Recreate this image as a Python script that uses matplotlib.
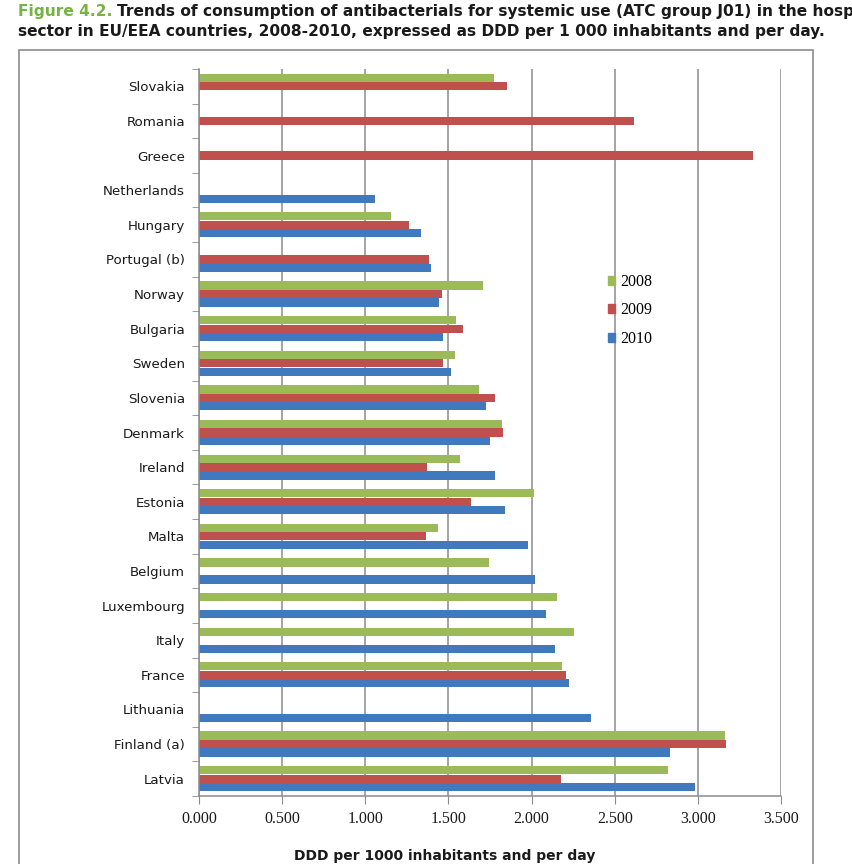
import matplotlib
matplotlib.use('Agg')
import matplotlib.pyplot as plt
from matplotlib.patches import Patch, Rectangle
import numpy as np

nan = np.nan

# categories, top to bottom as in the chart
countries = ['Slovakia', 'Romania', 'Greece', 'Netherlands', 'Hungary', 'Portugal (b)',
             'Norway', 'Bulgaria', 'Sweden', 'Slovenia', 'Denmark', 'Ireland', 'Estonia',
             'Malta', 'Belgium', 'Luxembourg', 'Italy', 'France', 'Lithuania',
             'Finland (a)', 'Latvia']

# DDD per 1000 inhabitants and per day
y2008 = [1.772, nan, nan, nan, 1.152, nan, 1.707, 1.548, 1.539, 1.684, 1.820, 1.571, 2.014,
         1.438, 1.744, 2.152, 2.253, 2.182, nan, 3.161, 2.823]
y2009 = [1.850, 2.618, 3.330, nan, 1.265, 1.382, 1.461, 1.585, 1.470, 1.779, 1.829, 1.371, 1.636,
         1.364, nan, nan, nan, 2.205, nan, 3.171, 2.177]
y2010 = [nan, nan, nan, 1.060, 1.334, 1.396, 1.442, 1.468, 1.516, 1.724, 1.751, 1.779, 1.839,
         1.979, 2.021, 2.088, 2.143, 2.226, 2.357, 2.832, 2.984]

years = ['2008', '2009', '2010']
colors = ['#9BBB59', '#C0504D', '#4079BD']

W, H = 853, 864
fig = plt.figure(figsize=(W / 100, H / 100), dpi=100)

# outer chart border
fig.patches.append(Rectangle((19.5 / W, -0.05), (813 - 19.5) / W, 1 - 50 / H + 0.05,
                             transform=fig.transFigure, fill=False, ec='#8c8c8c', lw=1.2))

ax = fig.add_axes([199 / W, 1 - 796 / H, (781 - 199) / W, (796 - 69) / H])

pos = np.arange(len(countries))
bh = 0.245
for i, (vals, c, lab) in enumerate(zip([y2008, y2009, y2010], colors, years)):
    ax.barh(pos + (i - 1) * bh, vals, height=bh * 0.97, color=c, label=lab, linewidth=0)

ax.set_xlim(0, 3.5)
ax.set_ylim(len(countries) - 0.5, -0.5)
ax.set_xticks(np.arange(0, 3.51, 0.5))
ax.set_xticklabels(['%.3f' % v for v in np.arange(0, 3.51, 0.5)],
                   fontfamily='Liberation Serif', fontsize=11.5, color='#1a1a1a')
ax.set_yticks(pos)
ax.set_yticklabels(countries, fontfamily='DejaVu Sans', fontsize=9.6, color='#1a1a1a')
ax.set_yticks(np.arange(-0.5, len(countries), 1), minor=True)
ax.tick_params(axis='y', which='major', length=0, pad=10)
ax.tick_params(axis='y', which='minor', length=5, color='#8c8c8c', direction='out')
ax.tick_params(axis='x', length=6, color='#8c8c8c', direction='out', pad=5)

ax.grid(axis='x', color='#8c8c8c', lw=1.1)
ax.set_axisbelow(True)
for s in ['top', 'right']:
    ax.spines[s].set_visible(False)
for s in ['left', 'bottom']:
    ax.spines[s].set_color('#8c8c8c')
    ax.spines[s].set_linewidth(1.1)

# axis title sits left of the plot centre in the original
fig.text(445 / W, 1 - 860 / H, 'DDD per 1000 inhabitants and per day', fontsize=10,
         fontweight='bold', color='#1a1a1a', ha='center', va='baseline')

handles = [Patch(color=c, label=l) for c, l in zip(colors, years)]
fig.legend(handles=handles, loc='upper left', bbox_to_anchor=(608 / W, 1 - 274 / H),
           frameon=False, handlelength=0.45, handleheight=0.45, handletextpad=0.3,
           labelspacing=0.78, borderpad=0, borderaxespad=0,
           prop={'family': 'Liberation Serif', 'size': 11.5})

# title, first part in green
t1 = fig.text(18 / W, 1 - 16 / H, 'Figure 4.2.', color='#77B341', fontsize=11.1,
              fontweight='bold')
fig.canvas.draw()
bb = t1.get_window_extent()
fig.text(bb.x1 / W + 5 / W, 1 - 16 / H,
         'Trends of consumption of antibacterials for systemic use (ATC group J01) in the hospi',
         color='#1a1a1a', fontsize=11.1, fontweight='bold')
fig.text(18 / W, 1 - 36 / H,
         'sector in EU/EEA countries, 2008-2010, expressed as DDD per 1 000 inhabitants and per day.',
         color='#1a1a1a', fontsize=11.1, fontweight='bold')

fig.savefig('out.png', dpi=100)
